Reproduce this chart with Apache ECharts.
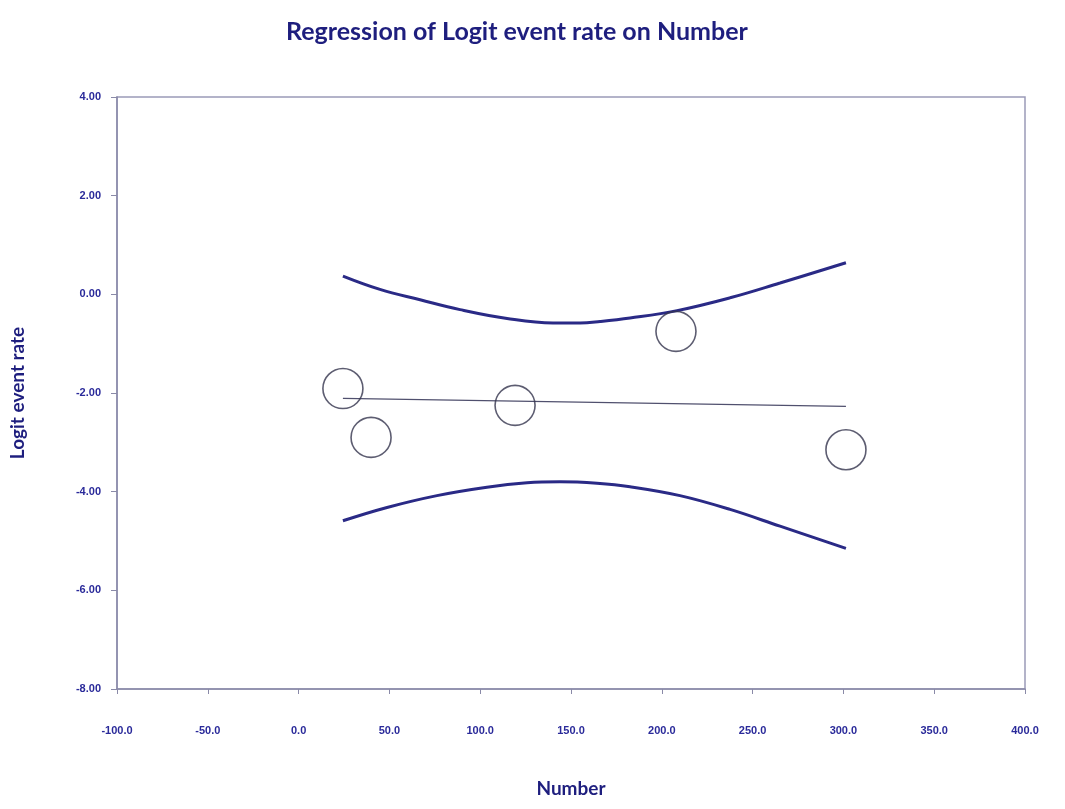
<!DOCTYPE html>
<html>
<head>
<meta charset="utf-8">
<script src="https://cdn.jsdelivr.net/npm/echarts@6/dist/echarts.min.js"></script>
<style>
  html, body { margin: 0; padding: 0; background: #ffffff; }
  #chart { width: 1065px; height: 809px; }
</style>
</head>
<body>
<div id="chart"></div>
<script>
// Observed studies: Number vs logit event rate
const studyX = [24.4, 39.9, 119.2, 207.8, 301.4];
const studyY = [-1.91, -2.90, -2.25, -0.75, -3.15];

// Fitted regression line (endpoints)
const fitX = [24.4, 301.4];
const fitY = [-2.11, -2.27];

// Confidence band, upper and lower limits
const upperX = [24.4, 44.8, 66.9, 88.9, 114.8, 140.1, 155.0, 166.0, 182.5, 208.4, 237.6, 265.1, 301.4];
const upperY = [0.37, 0.10, -0.11, -0.31, -0.49, -0.58, -0.58, -0.55, -0.48, -0.33, -0.07, 0.23, 0.64];
const lowerX = [24.4, 48.7, 76.2, 103.7, 125.8, 143.9, 164.3, 182.5, 210.0, 237.6, 265.1, 301.4];
const lowerY = [-4.59, -4.32, -4.08, -3.91, -3.82, -3.80, -3.83, -3.90, -4.08, -4.36, -4.70, -5.15];

const pairs = (xs, ys) => xs.map((x, i) => [x, ys[i]]);

const navy = '#1e1e7e';
const chart = echarts.init(document.getElementById('chart'), null, { renderer: 'canvas' });

chart.setOption({
  backgroundColor: '#ffffff',
  animation: false,
  title: {
    text: 'Regression of Logit event rate on Number',
    left: 281,
    top: 14,
    textStyle: { fontFamily: 'Lato', fontWeight: 'bold', fontSize: 25, color: navy }
  },
  grid: {
    left: 117, right: 40, top: 97, bottom: 120,
    outerBoundsMode: 'none',
    show: true, borderColor: '#9a9ab8', borderWidth: 1.5, backgroundColor: 'transparent'
  },
  xAxis: {
    type: 'value', min: -100, max: 400, interval: 50,
    name: 'Number', nameLocation: 'middle', nameGap: 90,
    nameTextStyle: { fontFamily: 'Lato', fontWeight: 'bold', fontSize: 19, color: navy },
    axisLine: { show: true, onZero: false, lineStyle: { color: '#8a8aa8', width: 1.5 } },
    axisTick: { show: true, length: 5, lineStyle: { color: '#8a8aa8' } },
    splitLine: { show: false },
    axisLabel: {
      margin: 36, fontFamily: 'Liberation Sans', fontWeight: 'bold', fontSize: 11, color: '#2a2a9a',
      formatter: v => v.toFixed(1)
    }
  },
  yAxis: {
    type: 'value', min: -8, max: 4, interval: 2,
    name: 'Logit event rate', nameLocation: 'middle', nameGap: 90, nameRotate: 90,
    nameTextStyle: { fontFamily: 'Lato', fontWeight: 'bold', fontSize: 19, color: navy },
    axisLine: { show: true, onZero: false, lineStyle: { color: '#8a8aa8', width: 1.5 } },
    axisTick: { show: true, length: 6, lineStyle: { color: '#8a8aa8' } },
    splitLine: { show: false },
    axisLabel: {
      margin: 16, fontFamily: 'Liberation Sans', fontWeight: 'bold', fontSize: 11, color: '#2a2a9a',
      formatter: v => v.toFixed(2)
    }
  },
  series: [
    {
      type: 'line', data: pairs(upperX, upperY), smooth: 0.4, showSymbol: false,
      lineStyle: { color: '#2a2a86', width: 3 }, z: 3
    },
    {
      type: 'line', data: pairs(lowerX, lowerY), smooth: 0.4, showSymbol: false,
      lineStyle: { color: '#2a2a86', width: 3 }, z: 3
    },
    {
      type: 'line', data: pairs(fitX, fitY), showSymbol: false,
      lineStyle: { color: '#50506e', width: 1.2 }, z: 2
    },
    {
      type: 'scatter', data: pairs(studyX, studyY), symbol: 'circle', symbolSize: 40,
      itemStyle: { color: 'rgba(0,0,0,0)', borderColor: '#34344e', borderWidth: 1.6 }, z: 4
    }
  ]
});
</script>
</body>
</html>
